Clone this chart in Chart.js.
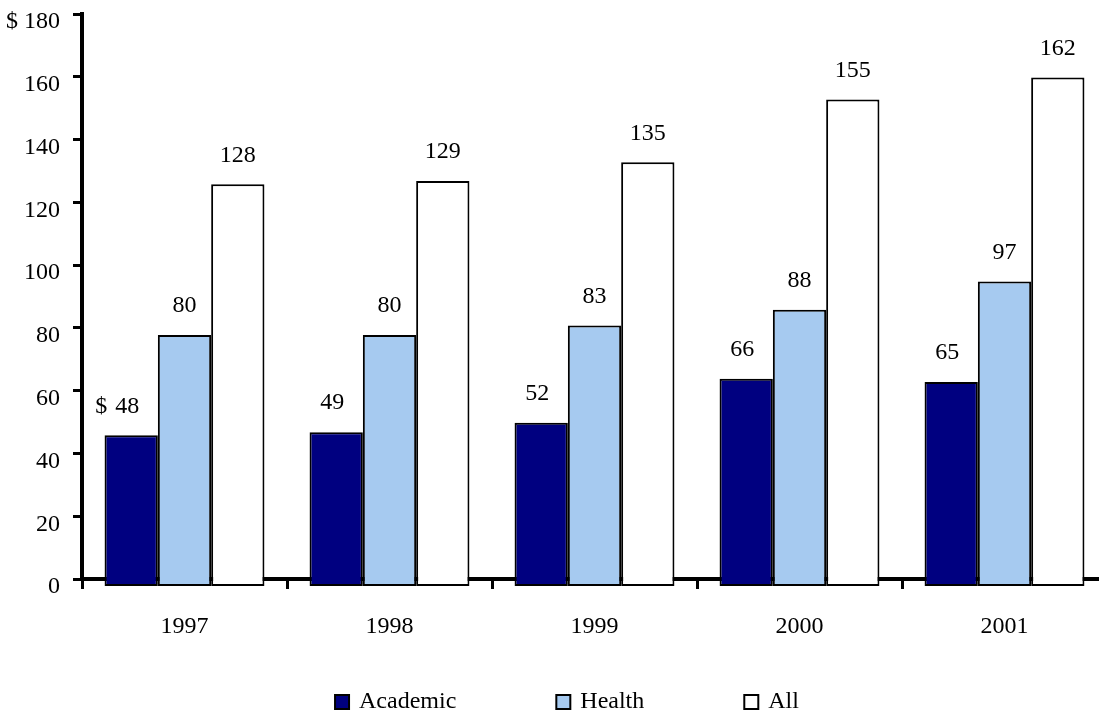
<!DOCTYPE html>
<html>
<head>
<meta charset="utf-8">
<script src="https://cdn.jsdelivr.net/npm/chart.js@4/dist/chart.umd.min.js"></script>
<style>
html,body{margin:0;padding:0;background:#fff;overflow:hidden;width:1099px;height:715px}
#wrap{position:relative;width:1110px;height:715px}
canvas{display:block}
</style>
</head>
<body>
<div id="wrap"><canvas id="c" width="1110" height="715"></canvas></div>
<script>
// ---- data ----
const years = ['1997', '1998', '1999', '2000', '2001'];
const academic = [48, 49, 52, 66, 65];
const health = [80, 80, 83, 88, 97];
const all = [128, 129, 135, 155, 162];
const seriesNames = ['Academic', 'Health', 'All'];
const yTickMin = 0, yTickMax = 180, yTickStep = 20;

// ---- styling ----
const FONT = '"Liberation Serif", "Times New Roman", serif';
const colors = ['#000080', '#A6CAF0', '#FFFFFF'];
const BAR_SHIFT = 2.23; // bars in the original sit slightly below the drawn zero line

Chart.defaults.font.family = FONT;
Chart.defaults.font.size = 24;
Chart.defaults.color = '#000';

const valueLabels = {
  id: 'valueLabels',
  afterDatasetsDraw(chart) {
    const ctx = chart.ctx;
    ctx.save();
    ctx.font = '24px ' + FONT;
    ctx.fillStyle = '#000';
    ctx.textBaseline = 'middle';
    chart.data.datasets.forEach((ds, di) => {
      chart.getDatasetMeta(di).data.forEach((bar, i) => {
        const txt = String(ds.data[i]);
        const y = bar.y - 29;
        ctx.textAlign = 'center';
        ctx.fillText(txt, bar.x - (di === 0 ? 4 : 0), y);
        if (di === 0 && i === 0) {
          const w = ctx.measureText(txt).width;
          ctx.textAlign = 'right';
          ctx.fillText('$', bar.x - 4 - w / 2 - 8, y);
        }
      });
    });
    ctx.restore();
  }
};

const bottomLegend = {
  id: 'bottomLegend',
  afterDraw(chart) {
    const ctx = chart.ctx;
    ctx.save();
    ctx.font = '24px ' + FONT;
    ctx.textBaseline = 'middle';
    ctx.textAlign = 'left';
    const box = 14, gapText = 10, gapItem = 100;
    const items = chart.data.datasets.map(ds => ({ text: ds.label, fill: ds.backgroundColor }));
    const widths = items.map(it => box + gapText + ctx.measureText(it.text).width);
    const total = widths.reduce((a, b) => a + b, 0) + gapItem * (items.length - 1);
    let x = 567 - total / 2;
    const y = 702;
    items.forEach((it, k) => {
      ctx.fillStyle = it.fill;
      ctx.fillRect(x, y - box / 2, box, box);
      ctx.lineWidth = 2;
      ctx.strokeStyle = '#000';
      ctx.strokeRect(x, y - box / 2, box, box);
      ctx.fillStyle = '#000';
      ctx.fillText(it.text, x + box + gapText, y);
      x += widths[k] + gapItem;
    });
    ctx.restore();
  }
};

const seriesData = [academic, health, all];

new Chart(document.getElementById('c'), {
  type: 'bar',
  data: {
    labels: years,
    datasets: seriesNames.map((name, k) => ({
      label: name,
      data: seriesData[k],
      backgroundColor: colors[k],
      borderColor: '#000',
      borderWidth: 2,
      borderSkipped: false,
      yAxisID: 'yb',
      clip: false,
      categoryPercentage: 0.78,
      barPercentage: 1.0
    }))
  },
  options: {
    responsive: false,
    animation: false,
    devicePixelRatio: 1,
    layout: { padding: { top: 14, right: 3, bottom: 0, left: 0 } },
    plugins: { legend: { display: false }, tooltip: { enabled: false } },
    scales: {
      x: {
        z: 1,
        offset: true,
        grid: { display: true, drawOnChartArea: false, drawTicks: true, tickLength: 10, tickWidth: 3, tickColor: '#000', offset: true },
        border: { display: true, color: '#000', width: 4 },
        ticks: { padding: 23, font: { size: 24 }, color: '#000' },
        afterFit(scale) { scale.height = 136; scale.paddingLeft = 0; scale.paddingRight = 0; }
      },
      y: {
        position: 'left',
        min: yTickMin,
        max: yTickMax,
        grid: { display: true, drawOnChartArea: false, drawTicks: true, tickLength: 9, tickWidth: 3, tickColor: '#000' },
        border: { display: true, color: '#000', width: 4 },
        ticks: {
          stepSize: yTickStep,
          padding: 13,
          labelOffset: 8,
          font: { size: 24 },
          color: '#000',
          callback: v => (v === yTickMax ? '$ ' + v : String(v))
        },
        afterFit(scale) { scale.width = 82; scale.paddingTop = 0; scale.paddingBottom = 0; }
      },
      yb: {
        type: 'linear',
        display: false,
        min: yTickMin + BAR_SHIFT,
        max: yTickMax + BAR_SHIFT
      }
    }
  },
  plugins: [valueLabels, bottomLegend]
});
</script>
</body>
</html>
